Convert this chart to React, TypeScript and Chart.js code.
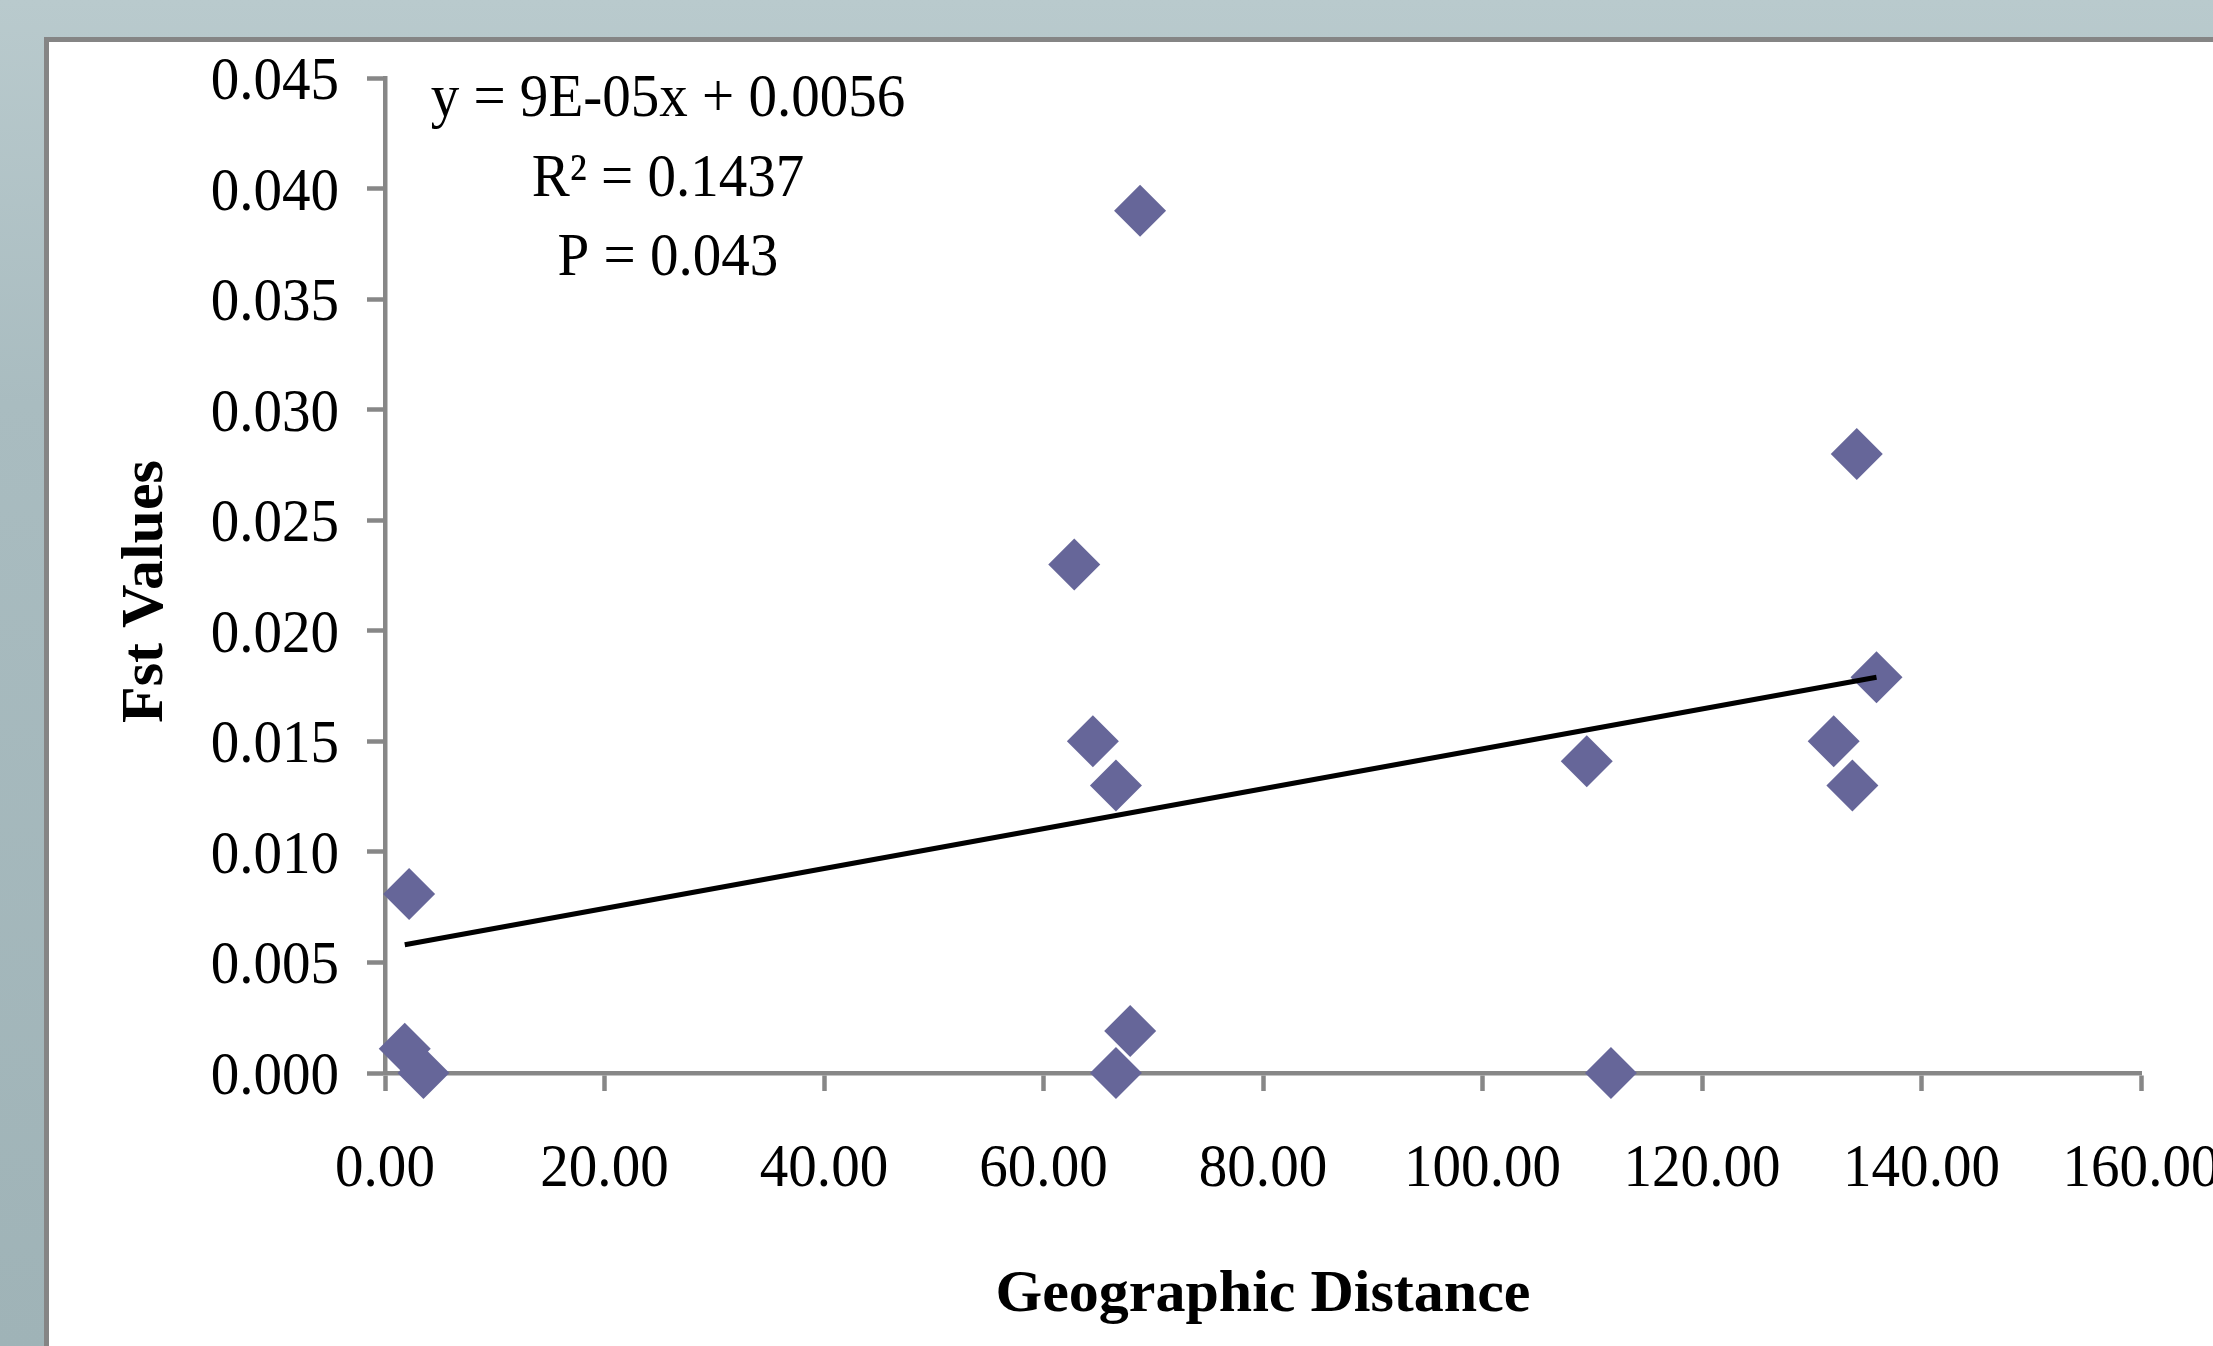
import React, { useEffect, useRef } from "react";
import { Chart, registerables } from "chart.js";

Chart.register(...registerables);

// Data
const distanceValues: number[] = [2.2, 1.8, 3.5, 62.8, 68.8, 64.5, 66.6, 67.9, 66.6, 109.5, 111.7, 134.1, 135.9, 132.0, 133.7];
const fstValues: number[] = [0.0081, 0.0011, 0.0, 0.023, 0.039, 0.015, 0.013, 0.0019, 0.0, 0.0141, 0.0, 0.028, 0.0179, 0.015, 0.013];
const trendX: number[] = [1.8, 135.9];
const trendY: number[] = [0.0058, 0.0179];
const annotationLines: string[] = ["y = 9E-05x + 0.0056", "R\u00B2 = 0.1437", "P = 0.043"];
const xTitle = "Geographic Distance";
const yTitle = "Fst Values";
const xTickDecimals = 2;
const yTickDecimals = 3;

const SERIF = '"Liberation Serif", "Times New Roman", serif';
const AXIS_GRAY = "#878787";
const TEXT_SIZE = 62;
const TEXT_SQUEEZE = 0.92;

function drawSqueezed(ctx: any, text: string, x: number, y: number, align: string) {
  ctx.save();
  ctx.translate(x, y);
  ctx.scale(TEXT_SQUEEZE, 1);
  ctx.textAlign = align;
  ctx.textBaseline = "alphabetic";
  ctx.fillText(text, 0, 0);
  ctx.restore();
}

const backgroundPlugin = {
  id: "panelBackground",
  beforeDraw(chart: any) {
    const { ctx, width, height } = chart;
    ctx.save();
    const g = ctx.createLinearGradient(0, 0, 0, height);
    g.addColorStop(0, "#b9cacd");
    g.addColorStop(0.3, "#a9bcc0");
    g.addColorStop(1, "#9fb3b7");
    ctx.fillStyle = g;
    ctx.fillRect(0, 0, width, height);
    ctx.fillStyle = "#ffffff";
    ctx.fillRect(46, 39, width, height);
    ctx.strokeStyle = "#858585";
    ctx.lineWidth = 5;
    ctx.strokeRect(46.5, 39.5, width + 20, height + 20);
    ctx.restore();
  },
};

const textPlugin = {
  id: "chartTexts",
  afterDraw(chart: any) {
    const { ctx, chartArea } = chart;
    const xs = chart.scales.x;
    const ys = chart.scales.y;
    ctx.save();
    ctx.fillStyle = "#000000";
    ctx.font = `${TEXT_SIZE}px ${SERIF}`;

    // y tick labels
    ys.ticks.forEach((t: any) => {
      const py = ys.getPixelForValue(t.value);
      drawSqueezed(ctx, Number(t.value).toFixed(yTickDecimals), chartArea.left - 46, py + 21, "right");
    });
    // x tick labels
    xs.ticks.forEach((t: any) => {
      const px = xs.getPixelForValue(t.value);
      drawSqueezed(ctx, Number(t.value).toFixed(xTickDecimals), px, chartArea.bottom + 113, "center");
    });
    // regression annotation
    const cx = chartArea.left + 283;
    annotationLines.forEach((line, i) => {
      drawSqueezed(ctx, line, cx, chartArea.top + 38 + i * 79.5, "center");
    });

    // y axis title
    ctx.font = `bold 60px ${SERIF}`;
    ctx.translate(162, (chartArea.top + chartArea.bottom) / 2 + 16);
    ctx.rotate(-Math.PI / 2);
    ctx.textAlign = "center";
    ctx.textBaseline = "alphabetic";
    ctx.fillText(yTitle, 0, 0);
    ctx.restore();
  },
};

export default function App() {
  const canvasRef = useRef<HTMLCanvasElement | null>(null);

  useEffect(() => {
    const canvas = canvasRef.current;
    if (!canvas) return;
    const points = distanceValues.map((x, i) => ({ x, y: fstValues[i] }));
    const trend = trendX.map((x, i) => ({ x, y: trendY[i] }));

    const chart = new Chart(canvas, {
      type: "scatter",
      data: {
        datasets: [
          {
            type: "line",
            label: "Trend",
            data: trend,
            borderColor: "#000000",
            borderWidth: 5,
            pointRadius: 0,
            fill: false,
            order: 0,
            clip: false,
          } as any,
          {
            label: "Fst",
            data: points,
            pointStyle: "rectRot",
            pointRadius: 26,
            pointHoverRadius: 26,
            backgroundColor: "#666699",
            borderWidth: 0,
            order: 1,
            clip: false,
          } as any,
        ],
      },
      options: {
        responsive: false,
        maintainAspectRatio: false,
        devicePixelRatio: 1,
        animation: false,
        events: [],
        layout: { padding: { top: 78, right: 72, left: 0, bottom: 0 } },
        plugins: {
          legend: { display: false },
          tooltip: { enabled: false },
        },
        scales: {
          x: {
            type: "linear",
            min: 0,
            max: 160,
            afterFit(scale: any) {
              scale.height = 1346 - 1073;
              scale.paddingLeft = 0;
              scale.paddingRight = 0;
            },
            ticks: {
              stepSize: 20,
              display: false,
              autoSkip: false,
              callback: (v: any) => Number(v).toFixed(xTickDecimals),
            },
            grid: {
              drawOnChartArea: false,
              drawTicks: true,
              tickLength: 18,
              tickWidth: 4.5,
              color: AXIS_GRAY,
            },
            border: { display: true, color: AXIS_GRAY, width: 4.5 },
            title: {
              display: true,
              text: xTitle,
              color: "#000000",
              font: { family: SERIF, size: 60, weight: "bold" },
              padding: { top: 0, bottom: 15 },
            },
          },
          y: {
            type: "linear",
            min: 0,
            max: 0.045,
            afterFit(scale: any) {
              scale.width = 385;
              scale.paddingTop = 0;
              scale.paddingBottom = 0;
            },
            ticks: {
              stepSize: 0.005,
              display: false,
              autoSkip: false,
              callback: (v: any) => Number(v).toFixed(yTickDecimals),
            },
            grid: {
              drawOnChartArea: false,
              drawTicks: true,
              tickLength: 18,
              tickWidth: 4.5,
              color: AXIS_GRAY,
            },
            border: { display: true, color: AXIS_GRAY, width: 4.5 },
            title: { display: false },
          },
        },
      },
      plugins: [backgroundPlugin, textPlugin],
    });

    return () => {
      chart.destroy();
    };
  }, []);

  return (
    <div style={{ position: "fixed", left: 0, top: 0, width: 2213, height: 1346, overflow: "hidden" }}>
      <canvas ref={canvasRef} width={2213} height={1346} style={{ display: "block", width: 2213, height: 1346 }} />
    </div>
  );
}
